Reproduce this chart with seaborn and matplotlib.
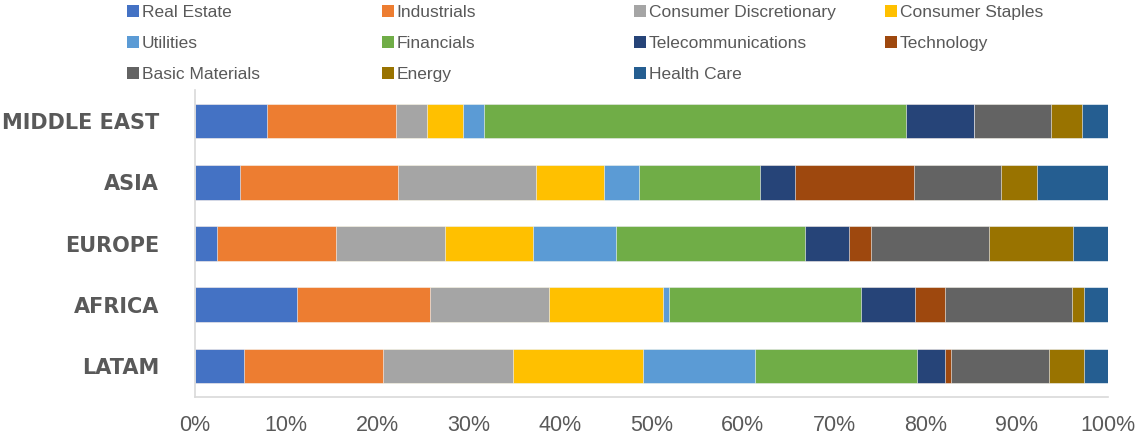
import matplotlib
matplotlib.use("Agg")
import matplotlib.pyplot as plt
import seaborn as sns
import numpy as np
import pandas as pd
from matplotlib.patches import Patch

# ---------------- data ----------------
regions = ["MIDDLE EAST", "ASIA", "EUROPE", "AFRICA", "LATAM"]
sectors = ["Real Estate", "Industrials", "Consumer Discretionary", "Consumer Staples",
           "Utilities", "Financials", "Telecommunications", "Technology",
           "Basic Materials", "Energy", "Health Care"]
real_estate    = [7.9, 4.9, 2.4, 11.2, 5.4]
industrials    = [14.1, 17.3, 13.0, 14.5, 15.2]
consumer_disc  = [3.4, 15.1, 12.0, 13.1, 14.2]
consumer_stap  = [4.0, 7.5, 9.6, 12.5, 14.3]
utilities      = [2.2, 3.8, 9.1, 0.6, 12.2]
financials     = [46.3, 13.3, 20.7, 21.1, 17.8]
telecom        = [7.4, 3.8, 4.8, 5.9, 3.1]
technology     = [0.0, 13.0, 2.4, 3.3, 0.6]
basic_mat      = [8.5, 9.6, 13.0, 13.9, 10.7]
energy         = [3.4, 3.9, 9.2, 1.3, 3.9]
health_care    = [2.8, 7.8, 3.8, 2.6, 2.6]
xtick_labels = ["0%", "10%", "20%", "30%", "40%", "50%", "60%", "70%", "80%", "90%", "100%"]

colors = ["#4472C4", "#ED7D31", "#A5A5A5", "#FFC000", "#5B9BD5", "#70AD47",
          "#264478", "#9E480E", "#636363", "#997300", "#255E91"]

series = [real_estate, industrials, consumer_disc, consumer_stap, utilities, financials,
          telecom, technology, basic_mat, energy, health_care]

df = pd.DataFrame({s: v for s, v in zip(sectors, series)}, index=regions)
# normalise to 100% (100% stacked bar)
df = df.div(df.sum(axis=1), axis=0) * 100
cum = df.cumsum(axis=1)

# ---------------- figure ----------------
sns.set_theme(style="white")
plt.rcParams['font.family'] = ['Liberation Sans', 'DejaVu Sans']
fig = plt.figure(figsize=(11.35, 4.4), dpi=100)
ax = fig.add_axes([195/1135, 1 - 396.6/440, (1108-195)/1135, (396.6-90.4)/440])

grey_txt = "#595959"
line_c = "#D9D9D9"

# stacked bars: draw cumulative totals from the last series to the first
for i in range(len(sectors) - 1, -1, -1):
    d = pd.DataFrame({"region": regions, "value": cum[sectors[i]].values})
    sns.barplot(data=d, x="value", y="region", orient="h", color=colors[i],
                saturation=1, width=0.57, ax=ax, edgecolor="white", linewidth=0.4)

ax.set_xlim(0, 100)
ax.set_ylim(len(regions) - 0.5, -0.5)
ax.set_xticks(np.arange(0, 101, 10))
ax.set_xticklabels(xtick_labels, family=['Liberation Sans', 'DejaVu Sans'],
                   fontsize=15.5, color=grey_txt)
ax.set_xlabel("")
ax.set_ylabel("")
ax.set_yticks(range(len(regions)))
ax.set_yticklabels(regions, fontsize=15, fontweight="bold", color=grey_txt,
                   family=['DejaVu Sans'])
ax.set_yticks(np.arange(-0.5, len(regions), 1.0), minor=True)
ax.tick_params(axis="y", which="major", length=0, pad=26)
ax.tick_params(axis="y", which="minor", length=9, color=line_c, width=1.2)
ax.tick_params(axis="x", which="major", length=7, color=line_c, width=1.2, pad=6)

for s in ["top", "right"]:
    ax.spines[s].set_visible(False)
for s in ["left", "bottom"]:
    ax.spines[s].set_color(line_c)
    ax.spines[s].set_linewidth(1.2)
ax.grid(False)

# ---------------- legend (4 columns, row-major order) ----------------
col_x = [127, 382, 634, 885]
columns = [[0, 4, 8], [1, 5, 9], [2, 6, 10], [3, 7]]
for cx, idxs in zip(col_x, columns):
    handles = [Patch(facecolor=colors[k], edgecolor="none") for k in idxs]
    labels = [sectors[k] for k in idxs]
    leg = fig.legend(handles, labels, loc="upper left",
                     bbox_to_anchor=(cx / 1135, 1 - 5 / 440), frameon=False,
                     prop={"family": ['Liberation Sans', 'DejaVu Sans'], "size": 12.5},
                     handlelength=0.7, handleheight=0.7, handletextpad=0.15,
                     labelspacing=0.92, borderpad=0, borderaxespad=0)
    for t in leg.get_texts():
        t.set_color(grey_txt)

fig.savefig("out.png", dpi=100)
